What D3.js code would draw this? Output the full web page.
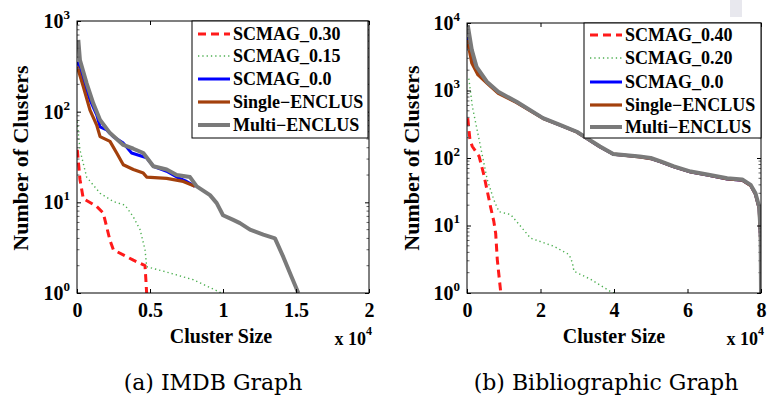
<!DOCTYPE html>
<html>
<head>
<meta charset="utf-8">
<script src="https://cdn.jsdelivr.net/npm/d3@7"></script>
<style>
  body { margin: 0; background: #fff; }
  svg { display: block; }
</style>
</head>
<body>
<svg id="root"></svg>
<script>
// series values, x in units of 10^4 (cluster size), y = number of clusters

// (a) IMDB
const imdbScmag030 = [[0.002,38],[0.02,18],[0.043,11],[0.135,9],[0.18,7.6],[0.226,3.8],[0.249,3.0],[0.386,2.3],[0.466,2.0],[0.477,1]];
const imdbScmag015 = [[0.002,78],[0.02,38],[0.066,19],[0.158,12.6],[0.249,10.2],[0.329,9.3],[0.386,6.9],[0.432,5.0],[0.466,3.0],[0.477,1.95],[0.614,1.7],[0.797,1.4],[0.99,1]];
const imdbScmag00 = [[0.005,355],[0.043,224],[0.089,135],[0.135,92],[0.158,68],[0.203,63],[0.249,53],[0.317,45],[0.374,35],[0.477,31],[0.523,25],[0.614,22],[0.683,19],[0.751,17],[0.808,15]];
const imdbSingle = [[0.002,314],[0.043,189],[0.089,104],[0.135,71],[0.158,53],[0.226,47],[0.272,35],[0.317,26],[0.386,23],[0.454,21],[0.477,19],[0.614,18.4],[0.728,17],[0.808,15]];
const imdbMulti = [[0.009,617],[0.02,372],[0.066,205],[0.112,123],[0.158,81],[0.226,58],[0.317,43],[0.386,39],[0.454,35],[0.523,25],[0.614,23],[0.683,20],[0.774,19],[0.82,15],[0.911,12],[0.957,9.8],[1.0,7.2],[1.07,6.4],[1.116,5.9],[1.185,5.0],[1.276,4.4],[1.356,4.0],[1.413,2.5],[1.47,1.5],[1.516,1]];

// (b) Bibliographic
const bibScmag040 = [[0.02,390],[0.08,187],[0.145,148],[0.33,106],[0.46,56],[0.64,19],[0.73,11.5],[0.78,7.7],[0.825,3.1],[0.92,1]];
const bibScmag020 = [[0.05,1500],[0.145,580],[0.33,187],[0.55,48],[0.73,24],[0.87,16],[1.19,14.5],[1.73,6.5],[2.37,4.9],[2.78,3.7],[2.87,2.8],[2.91,2.1],[3.36,1.6],[3.91,1.05],[4.0,1]];
const bibScmag00 = [[0.01,6200],[0.06,4100],[0.3,1880],[0.54,1330],[0.85,940],[1.35,670],[2.07,388],[2.53,308],[2.99,243],[3.26,195],[3.62,146],[3.98,114],[4.7,104],[5.0,98],[5.27,88],[5.63,74],[6.09,62],[6.54,56],[7.08,49],[7.49,47],[7.72,39],[7.85,29],[7.95,18],[7.99,6],[8.0,1]];
const bibSingle = [[0.01,5600],[0.13,2560],[0.3,1700],[0.54,1290],[0.85,910],[1.35,660],[2.07,386],[2.53,307],[2.99,242],[3.26,195],[3.62,146],[3.98,114],[4.7,104],[5.0,98],[5.27,88],[5.63,74],[6.09,62],[6.54,56],[7.08,49],[7.49,47],[7.72,39],[7.85,29],[7.95,18],[7.99,6],[8.0,1]];
const bibMulti = [[0.02,9300],[0.13,4000],[0.26,2240],[0.54,1350],[0.85,960],[1.35,680],[2.07,390],[2.53,310],[2.99,245],[3.26,197],[3.62,148],[3.98,115],[4.7,105],[5.0,100],[5.27,89],[5.63,75],[6.09,63],[6.54,57],[7.08,50],[7.49,48],[7.72,40],[7.85,30],[7.95,19],[7.99,7.7],[8.0,1]];

const imdbLegend = ["SCMAG_0.30", "SCMAG_0.15", "SCMAG_0.0", "Single\u2212ENCLUS", "Multi\u2212ENCLUS"];
const bibLegend = ["SCMAG_0.40", "SCMAG_0.20", "SCMAG_0.0", "Single\u2212ENCLUS", "Multi\u2212ENCLUS"];
const imdbXTicks = [0, 0.5, 1, 1.5, 2];
const bibXTicks = [0, 2, 4, 6, 8];

const styles = [
  { color: "#ff1a1a", width: 3, dash: "8,5" },
  { color: "#4caf50", width: 1.4, dash: "1.3,3" },
  { color: "#0000ff", width: 3, dash: null },
  { color: "#a3400c", width: 3.2, dash: null },
  { color: "#7a7a7a", width: 4, dash: null }
];

const serif = "'Liberation Serif', 'Times New Roman', Times, serif";
const capFont = "'DejaVu Serif', 'Liberation Serif', serif";

const svg = d3.select("#root").attr("width", 768).attr("height", 397);

// small bold serif text helper
function bold(sel, size) {
  return sel.style("font-family", serif).style("font-weight", "bold")
    .style("font-size", size + "px").attr("fill", "#000");
}

// faint mark in the top right corner of the scan
svg.append("rect").attr("x", 730).attr("y", 0).attr("width", 12).attr("height", 17).attr("fill", "#e8e8ee");

function drawPanel(p) {
  const x = d3.scaleLinear(p.xDomain, [p.left, p.right]);
  const y = d3.scaleLog(p.yDomain, [p.bottom, p.top]);
  const g = svg.append("g");

  g.append("clipPath").attr("id", p.id)
    .append("rect")
    .attr("x", p.left).attr("y", p.top)
    .attr("width", p.right - p.left).attr("height", p.bottom - p.top);

  // curves
  const line = d3.line().x(d => x(d[0])).y(d => y(d[1]));
  p.series.forEach((s, i) => {
    g.append("path")
      .datum(s)
      .attr("clip-path", "url(#" + p.id + ")")
      .attr("fill", "none")
      .attr("stroke", styles[i].color)
      .attr("stroke-width", styles[i].width)
      .attr("stroke-dasharray", styles[i].dash)
      .attr("stroke-linejoin", "round")
      .attr("d", line);
  });

  // axes, ticks pointing inward on all sides
  const yTicks = d3.range(Math.log10(p.yDomain[0]), Math.log10(p.yDomain[1]) + 1).map(e => Math.pow(10, e));
  const minor = [];
  yTicks.slice(0, -1).forEach(t => { for (let k = 2; k <= 9; k++) minor.push(t * k); });

  const bottom = g.append("g").attr("transform", `translate(0,${p.bottom})`)
    .call(d3.axisBottom(x).tickValues(p.xTicks).tickSize(-4).tickSizeOuter(0).tickPadding(10).tickFormat(d3.format("")));
  bold(bottom.selectAll("text"), 20);
  g.append("g").attr("transform", `translate(0,${p.top})`)
    .call(d3.axisTop(x).tickValues(p.xTicks).tickSize(-4).tickSizeOuter(0).tickFormat(""));

  const leftAx = g.append("g").attr("transform", `translate(${p.left},0)`)
    .call(d3.axisLeft(y).tickValues(yTicks).tickSize(-4).tickSizeOuter(0).tickPadding(7).tickFormat(""));
  leftAx.selectAll(".tick text").each(function(d) {
    const t = bold(d3.select(this), 20).attr("dy", "0.32em");
    t.append("tspan").text("10");
    t.append("tspan").attr("dy", -9).style("font-size", "13px").text(Math.round(Math.log10(d)));
  });
  g.append("g").attr("transform", `translate(${p.right},0)`)
    .call(d3.axisRight(y).tickValues(yTicks).tickSize(-4).tickSizeOuter(0).tickFormat(""));

  g.selectAll(".minor").data(minor).join("g").each(function(d) {
    d3.select(this).append("line").attr("x1", p.left).attr("x2", p.left + 2.5)
      .attr("y1", y(d)).attr("y2", y(d)).attr("stroke", "#666");
    d3.select(this).append("line").attr("x1", p.right).attr("x2", p.right - 2.5)
      .attr("y1", y(d)).attr("y2", y(d)).attr("stroke", "#666");
  });
  g.selectAll(".domain").remove();

  g.append("rect")
    .attr("x", p.left).attr("y", p.top)
    .attr("width", p.right - p.left).attr("height", p.bottom - p.top)
    .attr("fill", "none").attr("stroke", "#000").attr("stroke-width", 1);

  // legend
  const L = p.legend;
  g.append("rect").attr("x", L.x).attr("y", L.y).attr("width", L.w).attr("height", L.h)
    .attr("fill", "#fff").attr("stroke", "#000").attr("stroke-width", 1);
  p.labels.forEach((lab, i) => {
    const cy = L.rows[i];
    g.append("line")
      .attr("x1", L.x + 6).attr("x2", L.x + 38).attr("y1", cy).attr("y2", cy)
      .attr("stroke", styles[i].color)
      .attr("stroke-width", styles[i].width)
      .attr("stroke-dasharray", styles[i].dash);
    bold(g.append("text"), 18)
      .attr("x", L.x + 41).attr("y", cy + 6).text(lab);
  });

  // axis titles
  bold(g.append("text"), 22)
    .attr("text-anchor", "middle")
    .attr("transform", `translate(${p.ylabX},158) rotate(-90)`)
    .text("Number of Clusters");
  bold(g.append("text"), 20)
    .attr("text-anchor", "middle").attr("x", p.xlabX).attr("y", 343)
    .text("Cluster Size");
  const exp = bold(g.append("text"), 18)
    .attr("text-anchor", "end").attr("x", p.right + 3).attr("y", 345);
  exp.append("tspan").text("x 10");
  exp.append("tspan").attr("dy", -10).style("font-size", "12px").text("4");

  g.append("text").style("font-family", capFont).style("font-size", "22px")
    .attr("fill", "#000")
    .attr("text-anchor", "middle").attr("x", p.capX).attr("y", 390)
    .text(p.caption);
}

drawPanel({
  id: "clipA", left: 77, right: 369, top: 21, bottom: 293,
  xDomain: [0, 2], yDomain: [1, 1000], xTicks: imdbXTicks,
  series: [imdbScmag030, imdbScmag015, imdbScmag00, imdbSingle, imdbMulti],
  labels: imdbLegend,
  legend: { x: 192, y: 21, w: 176, h: 117, rows: [34, 56, 79, 102, 125] },
  ylabX: 28, xlabX: 221, capX: 213, caption: "(a) IMDB Graph"
});

drawPanel({
  id: "clipB", left: 467, right: 761, top: 23, bottom: 293,
  xDomain: [0, 8], yDomain: [1, 10000], xTicks: bibXTicks,
  series: [bibScmag040, bibScmag020, bibScmag00, bibSingle, bibMulti],
  labels: bibLegend,
  legend: { x: 584, y: 23, w: 177, h: 115, rows: [35, 58, 82, 105, 127] },
  ylabX: 419, xlabX: 614, capX: 606, caption: "(b) Bibliographic Graph"
});
</script>
</body>
</html>
